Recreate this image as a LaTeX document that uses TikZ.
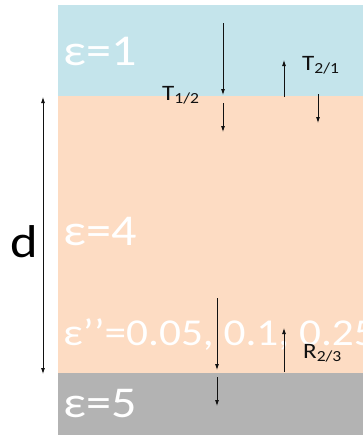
\documentclass[tikz,border=0pt]{standalone}
\usepackage{fontspec}
\setmainfont{Carlito}[FakeStretch=1.14]
\usepackage{xcolor}
\usetikzlibrary{arrows.meta}
\definecolor{cSky}{HTML}{C4E4EB}
\definecolor{cPeach}{HTML}{FDDCC3}
\definecolor{cStone}{HTML}{B3B3B3}
\definecolor{cInk}{HTML}{111111}
\tikzset{
  arr/.style={-{Latex[length=6pt,width=4pt]},line width=0.8pt,color=cInk},
  darr/.style={{Latex[length=6pt,width=4pt]}-{Latex[length=6pt,width=4pt]},line width=0.8pt,color=cInk},
  eps/.style={anchor=base west,inner sep=0pt,text=white,font=\fontsize{44}{44}\selectfont},
  lbl/.style={anchor=base west,inner sep=0pt,text=cInk,font=\fontsize{22}{22}\selectfont},
}

\begin{document}
\begin{tikzpicture}[x=1pt,y=-1pt]
        \useasboundingbox (0,0) rectangle (363,437);
        % layers
        \fill[cSky] (58,5) rectangle (363,96);
        \fill[cPeach] (58,96) rectangle (363,373);
        \fill[cStone] (58,373) rectangle (363,435);
        % permittivities
        \node[eps] (top) at (63,65) {ε=1};
        \node[eps] (mid) at (63,245) {ε=4};
        \node[eps,font=\fontsize{38}{38}\selectfont] (loss) at (63,345) {ε’’=0.05, 0.1, 0.25};
        \node[eps] (sub) at (63,417) {ε=5};
        % thickness
        \draw[darr] (43,97) -- (43,374);
        \node[anchor=base west,inner sep=0pt,font=\fontsize{46}{46}\selectfont] (thick) at (10,257) {d};
        % upper interface
        \draw[arr] (223,23) -- (223,95);
        \draw[arr] (223,103) -- (223,132);
        \draw[arr] (284,97) -- (284,60);
        \draw[arr] (318,94) -- (318,123);
        \node[lbl] (t12) at (162,100) {T\textsubscript{1/2}};
        \node[lbl] (t21) at (302,70) {T\textsubscript{2/1}};
        % lower interface
        \draw[arr] (217,298) -- (217,370);
        \draw[arr] (217,377) -- (217,406);
        \draw[arr] (284,372) -- (284,328);
        \node[lbl] (r23) at (303,358) {R\textsubscript{2/3}};
      \end{tikzpicture}
\end{document}
